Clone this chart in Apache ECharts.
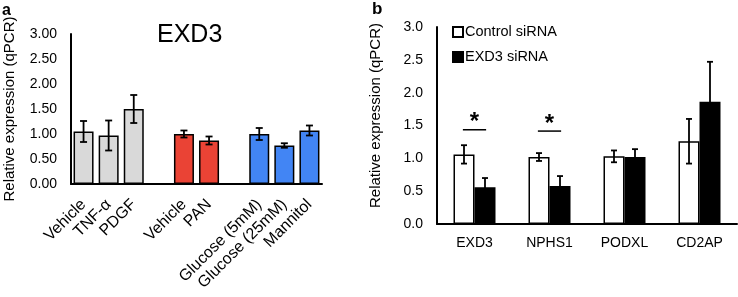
<!DOCTYPE html>
<html>
<head>
<meta charset="utf-8">
<script src="https://cdn.jsdelivr.net/npm/echarts@6/dist/echarts.min.js"></script>
<style>
  html, body { margin: 0; padding: 0; background: #fff; }
  #main { width: 738px; height: 297px; }
</style>
</head>
<body>
<div id="main"></div>
<script>
// panel a - EXD3 under different treatments
const catsA = ['Vehicle', 'TNF-α', 'PDGF', '', 'Vehicle', 'PAN', '', 'Glucose (5mM)', 'Glucose (25mM)', 'Mannitol'];
const valsA = [1.05, 0.97, 1.50, null, 1.00, 0.87, null, 1.00, 0.77, 1.07];
const errA  = [0.21, 0.30, 0.28, null, 0.07, 0.08, null, 0.12, 0.045, 0.10];
const colorsA = ['#d9d9d9', '#d9d9d9', '#d9d9d9', '#fff', '#ea4335', '#ea4335', '#fff', '#4285f4', '#4285f4', '#4285f4'];

// panel b - siRNA knockdown
const catsB = ['EXD3', 'NPHS1', 'PODXL', 'CD2AP'];
const ctrlB = [1.06, 1.02, 1.03, 1.26];
const ctrlErrB = [0.14, 0.06, 0.09, 0.34];
const kdB = [0.56, 0.58, 1.02, 1.86];
const kdErrB = [0.14, 0.15, 0.12, 0.61];
const sigB = [[0, 1.435], [1, 1.415]]; // * markers

const font = 'Liberation Sans, Arial, sans-serif';

// error bar drawing, offset = fraction of band width
function errRender(offset, cap) {
  return function (params, api) {
    const i = api.value(0), v = api.value(1), e = api.value(2);
    const band = api.size([1, 0])[0];
    const x = api.coord([i, v])[0] + band * offset;
    const top = api.coord([i, v + e])[1];
    const bot = api.coord([i, v - e])[1];
    const st = { stroke: '#000', lineWidth: 1.8 };
    return {
      type: 'group',
      children: [
        { type: 'line', shape: { x1: x, y1: top, x2: x, y2: bot }, style: st },
        { type: 'line', shape: { x1: x - cap, y1: top, x2: x + cap, y2: top }, style: st },
        { type: 'line', shape: { x1: x - cap, y1: bot, x2: x + cap, y2: bot }, style: st }
      ]
    };
  };
}

let chart = echarts.init(document.getElementById('main'));
let option = {
  animation: false,
  textStyle: { fontFamily: font },
  title: [
    { text: 'a', left: -3, top: -2, textStyle: { fontSize: 16, fontWeight: 'bold', color: '#000', fontFamily: font } },
    { text: 'b', left: 367, top: -4, textStyle: { fontSize: 17, fontWeight: 'bold', color: '#000', fontFamily: font } },
    { text: 'EXD3', left: 152, top: 18, textStyle: { fontSize: 25, fontWeight: 'normal', color: '#000', fontFamily: font } }
  ],
  legend: {
    data: ['Control siRNA', 'EXD3 siRNA'],
    orient: 'vertical',
    left: 452,
    top: 24,
    padding: 0,
    itemWidth: 10,
    itemHeight: 10,
    itemGap: 9,
    icon: 'rect',
    textStyle: { fontSize: 14.5, lineHeight: 16, color: '#000', fontFamily: font, padding: [0, 0, 0, -3] }
  },
  grid: [
    { left: 71, top: 34, width: 251, height: 150 },
    { left: 437, top: 27, width: 300, height: 197 }
  ],
  xAxis: [
    {
      type: 'category', gridIndex: 0, data: catsA,
      axisLine: { lineStyle: { color: '#000', width: 2 } },
      axisTick: { show: false },
      axisLabel: { interval: 0, rotate: 45, fontSize: 16, color: '#000', margin: 18, fontFamily: font }
    },
    {
      type: 'category', gridIndex: 1, data: catsB,
      axisLine: { lineStyle: { color: '#000', width: 2 } },
      axisTick: { show: false },
      axisLabel: { interval: 0, fontSize: 14, color: '#000', margin: 12, fontFamily: font }
    }
  ],
  yAxis: [
    {
      type: 'value', gridIndex: 0, min: 0, max: 3, interval: 0.5,
      name: 'Relative expression (qPCR)', nameLocation: 'middle', nameGap: 54,
      nameTextStyle: { fontSize: 15, color: '#000', fontFamily: font },
      axisLine: { show: true, lineStyle: { color: '#000', width: 2 } },
      axisTick: { show: false },
      splitLine: { show: false },
      axisLabel: { fontSize: 14, color: '#000', margin: 14, formatter: v => v.toFixed(2), fontFamily: font }
    },
    {
      type: 'value', gridIndex: 1, min: 0, max: 3, interval: 0.5,
      name: 'Relative expression (qPCR)', nameLocation: 'middle', nameGap: 54,
      nameTextStyle: { fontSize: 15, color: '#000', padding: [0, 0, 0, 20], fontFamily: font },
      axisLine: { show: true, lineStyle: { color: '#000', width: 2 } },
      axisTick: { show: false },
      splitLine: { show: false },
      axisLabel: { fontSize: 14, color: '#000', margin: 14, formatter: v => v.toFixed(1), fontFamily: font }
    }
  ],
  series: [
    {
      type: 'bar', xAxisIndex: 0, yAxisIndex: 0, barWidth: 20,
      data: valsA.map((v, i) => ({ value: v, itemStyle: { color: colorsA[i] } })),
      itemStyle: { borderColor: '#000', borderWidth: 1.5 }
    },
    {
      type: 'custom', xAxisIndex: 0, yAxisIndex: 0, z: 5,
      renderItem: errRender(0, 3.5),
      data: valsA.map((v, i) => [i, v, errA[i]]).filter(d => d[1] != null)
    },
    {
      name: 'Control siRNA', type: 'bar', xAxisIndex: 1, yAxisIndex: 1,
      barWidth: 21, barGap: '0%', data: ctrlB,
      itemStyle: { color: '#fff', borderColor: '#000', borderWidth: 1.5 }
    },
    {
      name: 'EXD3 siRNA', type: 'bar', xAxisIndex: 1, yAxisIndex: 1,
      barWidth: 21, barGap: '0%', data: kdB,
      itemStyle: { color: '#000', borderColor: '#000', borderWidth: 1.5 }
    },
    {
      type: 'custom', xAxisIndex: 1, yAxisIndex: 1, z: 5,
      renderItem: errRender(-0.14, 3),
      data: ctrlB.map((v, i) => [i, v, ctrlErrB[i]])
    },
    {
      type: 'custom', xAxisIndex: 1, yAxisIndex: 1, z: 5,
      renderItem: errRender(0.14, 3),
      data: kdB.map((v, i) => [i, v, kdErrB[i]])
    },
    {
      type: 'custom', xAxisIndex: 1, yAxisIndex: 1, z: 5,
      renderItem: function (params, api) {
        const p = api.coord([api.value(0), api.value(1)]);
        const half = api.size([1, 0])[0] * 0.155;
        return {
          type: 'group',
          children: [
            { type: 'line', shape: { x1: p[0] - half, y1: p[1], x2: p[0] + half, y2: p[1] }, style: { stroke: '#000', lineWidth: 1.5 } },
            { type: 'text', x: p[0], y: p[1] + 5, style: { text: '*', fill: '#000', font: 'bold 24px ' + font, align: 'center', verticalAlign: 'bottom' } }
          ]
        };
      },
      data: sigB
    }
  ]
};
chart.setOption(option);
</script>
</body>
</html>
